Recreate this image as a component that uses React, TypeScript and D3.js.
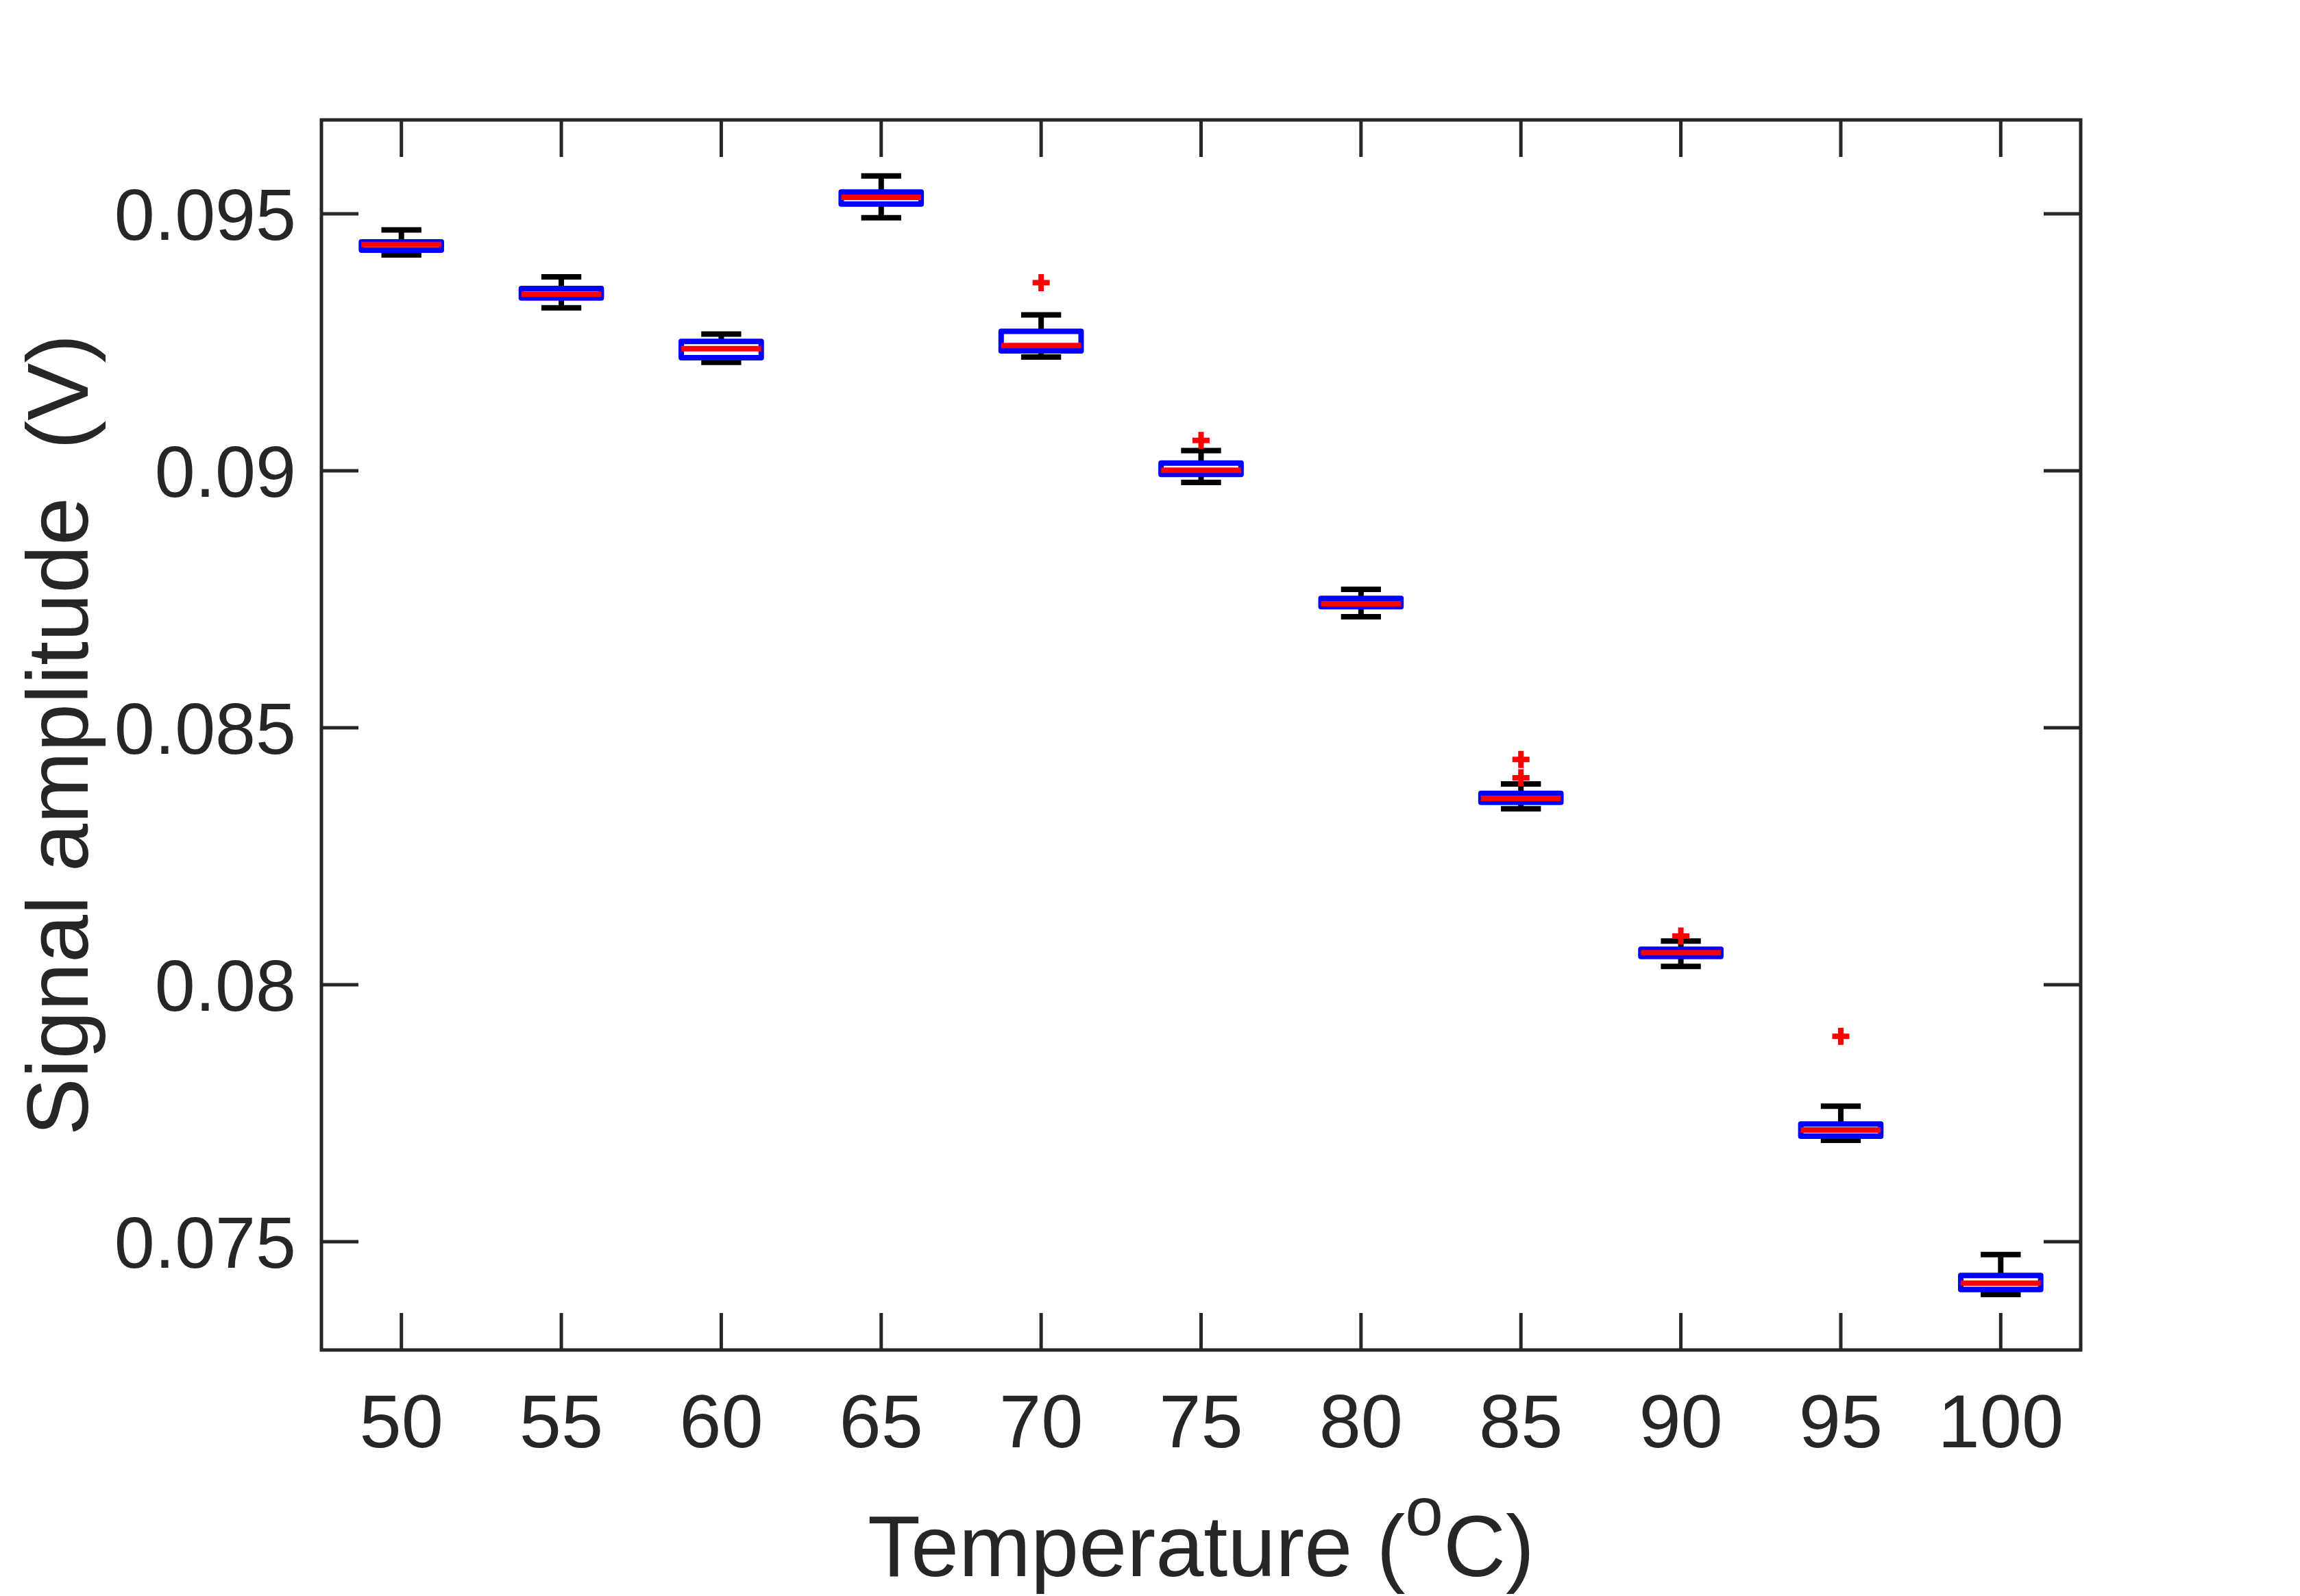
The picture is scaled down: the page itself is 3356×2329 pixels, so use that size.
import React, { useEffect } from "react";
import * as d3 from "d3";

// ---- data ----
const temperatures = ["50", "55", "60", "65", "70", "75", "80", "85", "90", "95", "100"];
const whiskerHigh = [0.094687, 0.093773, 0.09266, 0.095737, 0.093032, 0.090393, 0.087693, 0.083907, 0.080851, 0.077636, 0.074751];
const q3 = [0.094453, 0.093547, 0.092517, 0.095423, 0.092713, 0.090151, 0.087516, 0.083724, 0.080691, 0.077291, 0.074343];
const medians = [0.094404, 0.093436, 0.092377, 0.095321, 0.092437, 0.090009, 0.087413, 0.083627, 0.080624, 0.077173, 0.074193];
const q1 = [0.094293, 0.093364, 0.092201, 0.095189, 0.092333, 0.089931, 0.087356, 0.083551, 0.080549, 0.077053, 0.074071];
const whiskerLow = [0.0942, 0.093169, 0.092109, 0.094925, 0.092213, 0.089773, 0.08716, 0.083423, 0.080357, 0.076973, 0.073973];
const outlierGroup = [4, 5, 7, 7, 8, 9];
const outlierValue = [0.09366, 0.090591, 0.084383, 0.084027, 0.080947, 0.078996];
const yTicks = [0.075, 0.08, 0.085, 0.09, 0.095];
const yTickLabels = ["0.075", "0.08", "0.085", "0.09", "0.095"];
const yDomain = [0.072893, 0.096827];

const W = 3356;
const H = 2329;
const FONT = "'Liberation Sans', Arial, Helvetica, sans-serif";
const AX = "#262626";

export default function App() {
  useEffect(() => {
    document.body.style.margin = "0";
  }, []);

  const left = 469, right = 3036, top = 175, bottom = 1970;
  const x = d3.scaleLinear().domain([0.5, temperatures.length + 0.5]).range([left, right]);
  const y = d3.scaleLinear().domain(yDomain).range([bottom, top]);
  const boxHalf = (x(1.25) - x(1)); // width 0.5
  const capHalf = boxHalf / 2;
  const tickLen = 54;
  const lw = 8;

  return (
    <svg width={W} height={H} style={{ display: "block", position: "absolute", left: 0, top: 0, background: "#fff" }}>
      <rect x={0} y={0} width={W} height={H} fill="#fff" />
      {/* ticks */}
      <g stroke={AX} strokeWidth={5}>
        {temperatures.map((t, i) => (
          <g key={t}>
            <line x1={x(i + 1)} x2={x(i + 1)} y1={bottom} y2={bottom - tickLen} />
            <line x1={x(i + 1)} x2={x(i + 1)} y1={top} y2={top + tickLen} />
          </g>
        ))}
        {yTicks.map((v) => (
          <g key={v}>
            <line x1={left} x2={left + tickLen} y1={y(v)} y2={y(v)} />
            <line x1={right} x2={right - tickLen} y1={y(v)} y2={y(v)} />
          </g>
        ))}
      </g>
      {/* boxes */}
      {temperatures.map((t, i) => {
        const cx = x(i + 1);
        return (
          <g key={"b" + t} strokeLinecap="butt">
            <line x1={cx} x2={cx} y1={y(q3[i])} y2={y(whiskerHigh[i])} stroke="#000" strokeWidth={lw} />
            <line x1={cx} x2={cx} y1={y(q1[i])} y2={y(whiskerLow[i])} stroke="#000" strokeWidth={lw} />
            <line x1={cx - capHalf} x2={cx + capHalf} y1={y(whiskerHigh[i])} y2={y(whiskerHigh[i])} stroke="#000" strokeWidth={lw} />
            <line x1={cx - capHalf} x2={cx + capHalf} y1={y(whiskerLow[i])} y2={y(whiskerLow[i])} stroke="#000" strokeWidth={lw} />
            <rect
              x={cx - boxHalf}
              y={y(q3[i])}
              width={2 * boxHalf}
              height={y(q1[i]) - y(q3[i])}
              fill="none"
              stroke="#0000ff"
              strokeWidth={lw}
              strokeLinejoin="round"
            />
            <line x1={cx - boxHalf} x2={cx + boxHalf} y1={y(medians[i])} y2={y(medians[i])} stroke="#ff0000" strokeWidth={lw} />
          </g>
        );
      })}
      {/* outliers */}
      <g stroke="#ff0000" strokeWidth={8}>
        {outlierValue.map((v, k) => {
          const cx = x(outlierGroup[k] + 1);
          const cy = y(v);
          return (
            <g key={"o" + k}>
              <line x1={cx - 12.5} x2={cx + 12.5} y1={cy} y2={cy} />
              <line x1={cx} x2={cx} y1={cy - 12.5} y2={cy + 12.5} />
            </g>
          );
        })}
      </g>
      {/* frame */}
      <rect x={left} y={top} width={right - left} height={bottom - top} fill="none" stroke={AX} strokeWidth={5} />
      {/* tick labels */}
      <g fill={AX} fontFamily={FONT}>
        {temperatures.map((t, i) => (
          <text key={"xl" + t} x={x(i + 1)} y={2112} textAnchor="middle" fontSize={110}>{t}</text>
        ))}
        {yTicks.map((v, k) => (
          <text key={"yl" + v} x={432} y={y(v)} dy="0.36em" textAnchor="end" fontSize={106}>{yTickLabels[k]}</text>
        ))}
      </g>
      {/* axis labels */}
      <text x={(left + right) / 2} y={2300} textAnchor="middle" fill={AX} fontFamily={FONT} fontSize={126}>
        Temperature (<tspan fontSize={100} dy={-60}>o</tspan><tspan dy={60}>C)</tspan>
      </text>
      <text
        transform={`translate(128, ${(top + bottom) / 2}) rotate(-90)`}
        textAnchor="middle"
        fill={AX}
        fontFamily={FONT}
        fontSize={126}
        style={{ whiteSpace: "pre" }}
      >
        {"Signal amplitude  (V)"}
      </text>
    </svg>
  );
}
